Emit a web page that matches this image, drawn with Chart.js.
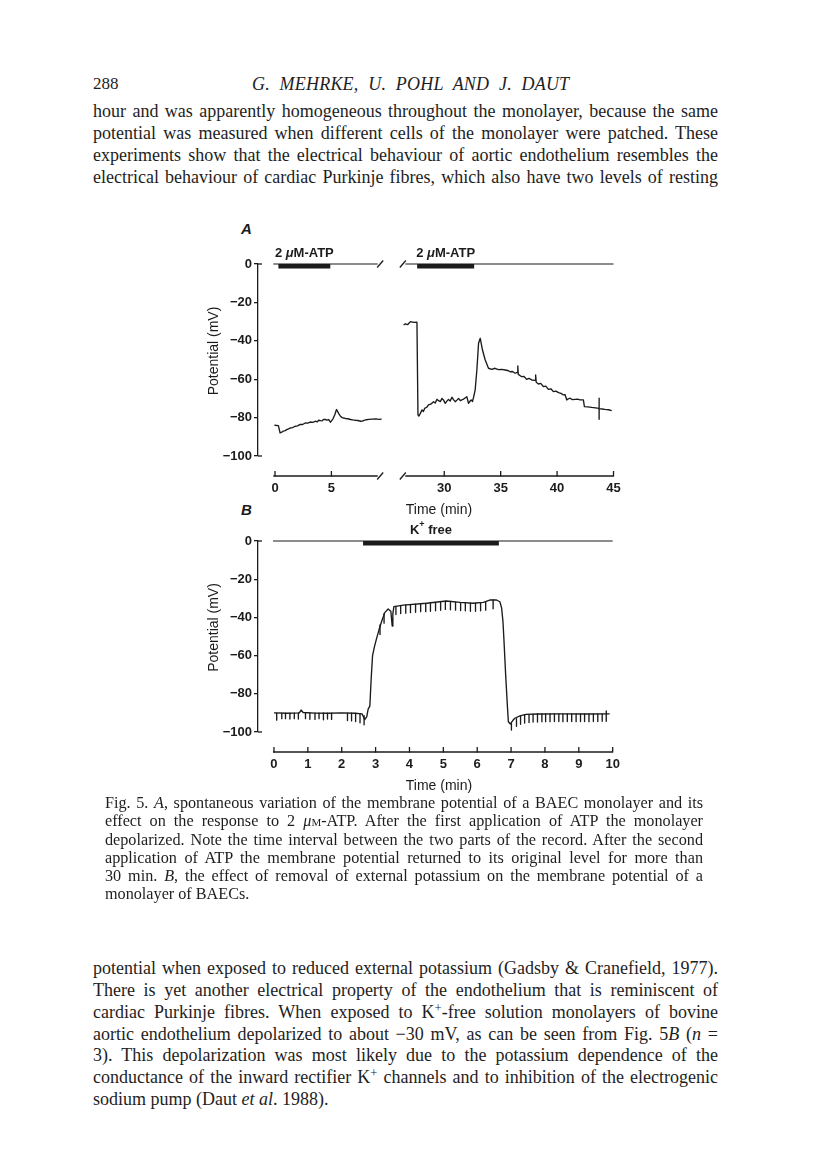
<!DOCTYPE html>
<html>
<head>
<meta charset="utf-8">
<script src="https://cdn.jsdelivr.net/npm/chart.js@4.4.0/dist/chart.umd.min.js"></script>
<style>
  body { margin: 0; background: #fff; width: 816px; height: 1167px; position: relative; overflow: hidden;
         font-family: "Liberation Serif", serif; color: #1e1e1e; }
  .l { position: absolute; left: 93px; width: 625px; font-size: 18px; line-height: 22px;
       text-align: justify; text-align-last: justify; }
  .c { left: 105px; width: 598px; font-size: 16.2px; line-height: 18px; }
  .last { text-align-last: left; }
  .sc { font-variant: small-caps; }
  sup { font-size: 0.7em; line-height: 0; vertical-align: 0.45em; }
  .hd { position: absolute; font-size: 17px; line-height: 22px; }
  .panel { position: absolute; font: italic bold 15px "Liberation Sans", sans-serif; color: #1b1b1b; }
  canvas { position: absolute; }
</style>
</head>
<body>

<div class="hd" style="left:93px;top:73px;">288</div>
<div class="hd" style="left:252px;top:73px;font-style:italic;font-size:18px;letter-spacing:0.2px;word-spacing:5px;">G. MEHRKE, U. POHL AND J. DAUT</div>

<div class="l" style="top:100px;">hour and was apparently homogeneous throughout the monolayer, because the same</div>
<div class="l" style="top:122px;">potential was measured when different cells of the monolayer were patched. These</div>
<div class="l" style="top:144px;">experiments show that the electrical behaviour of aortic endothelium resembles the</div>
<div class="l" style="top:166px;">electrical behaviour of cardiac Purkinje fibres, which also have two levels of resting</div>

<div class="panel" style="left:241px;top:220px;">A</div>
<div class="panel" style="left:241px;top:501px;">B</div>

<canvas id="panelA" width="450" height="290" style="left:180px;top:236px;"></canvas>
<canvas id="panelB" width="450" height="289" style="left:180px;top:513px;"></canvas>

<div class="l c" style="top:794px;">Fig. 5. <i>A</i>, spontaneous variation of the membrane potential of a BAEC monolayer and its</div>
<div class="l c" style="top:812px;">effect on the response to 2 <i>μ</i><span class="sc">m</span>-ATP. After the first application of ATP the monolayer</div>
<div class="l c" style="top:831px;">depolarized. Note the time interval between the two parts of the record. After the second</div>
<div class="l c" style="top:849px;">application of ATP the membrane potential returned to its original level for more than</div>
<div class="l c" style="top:867px;">30 min. <i>B</i>, the effect of removal of external potassium on the membrane potential of a</div>
<div class="l c last" style="top:885px;">monolayer of BAECs.</div>

<div class="l" style="top:957px;">potential when exposed to reduced external potassium (Gadsby &amp; Cranefield, 1977).</div>
<div class="l" style="top:979px;">There is yet another electrical property of the endothelium that is reminiscent of</div>
<div class="l" style="top:1001px;">cardiac Purkinje fibres. When exposed to K<sup>+</sup>-free solution monolayers of bovine</div>
<div class="l" style="top:1023px;">aortic endothelium depolarized to about −30 mV, as can be seen from Fig. 5<i>B</i> (<i>n</i> =</div>
<div class="l" style="top:1044px;">3). This depolarization was most likely due to the potassium dependence of the</div>
<div class="l" style="top:1066px;">conductance of the inward rectifier K<sup>+</sup> channels and to inhibition of the electrogenic</div>
<div class="l last" style="top:1088px;">sodium pump (Daut <i>et al</i>. 1988).</div>

<script>
// ---- data (time in min, potential in mV) ----

// panel A, first record
const aLeftTime = [-0.05, 0.3, 0.45, 0.6, 0.74, 0.9, 1.04, 1.2, 1.34, 1.55, 1.79, 2.0, 2.23, 2.45, 2.68,
  2.9, 3.13, 3.35, 3.57, 3.75, 3.87, 4.05, 4.17, 4.3, 4.46, 4.6, 4.76, 4.91, 5.02, 5.15, 5.3, 5.45, 5.55,
  5.65, 5.8, 5.95, 6.1, 6.25, 6.45, 6.7, 6.9, 7.14, 7.35, 7.59, 7.75, 7.89, 8.1, 8.33, 8.6, 8.93, 9.2, 9.45];
const aLeftMv = [-84.0, -84.2, -88.0, -87.6, -87.0, -86.8, -86.3, -85.9, -85.4, -85.2, -84.5, -84.3, -83.5, -83.6, -82.8,
  -82.9, -82.3, -82.5, -81.9, -82.2, -81.4, -81.6, -81.7, -81.0, -80.9, -81.3, -81.0, -82.4, -81.6, -80.5, -78.5, -75.8, -76.8,
  -77.9, -79.3, -80.0, -80.2, -80.5, -80.6, -81.0, -81.2, -81.4, -81.5, -81.9, -81.8, -81.4, -81.1, -80.9, -80.8, -80.7, -80.9, -80.8];

// panel A, second record
const aRightTime = [26.4, 26.55, 26.75, 27.0, 27.3, 27.58, 27.67, 27.75, 27.88, 28.03, 28.15, 28.26, 28.45, 28.6, 28.8,
  29.05, 29.2, 29.35, 29.5, 29.65, 29.8, 29.95, 30.09, 30.25, 30.38, 30.52, 30.68, 30.82, 30.97, 31.12, 31.27, 31.42,
  31.56, 31.75, 32.0, 32.15, 32.27, 32.39, 32.5, 32.6, 32.74, 32.89, 33.04, 33.19, 33.39, 33.63, 33.92, 34.22, 34.5,
  34.8, 35.1, 35.4, 35.7, 35.84, 36.05, 36.28, 36.48, 36.52, 36.56, 36.87, 37.05, 37.3, 37.5, 37.76, 38.05, 38.1,
  38.15, 38.35, 38.55, 38.8, 39.0, 39.23, 39.45, 39.67, 39.9, 40.12, 40.35, 40.56, 40.7, 40.86, 41.0, 41.15, 41.35,
  41.6, 41.8, 42.04, 42.33, 42.42, 42.7, 43.07, 43.4, 43.72, 43.72, 43.72, 43.74, 44.0, 44.25, 44.55, 44.84];
const aRightMv = [-31.8, -31.2, -31.6, -30.0, -30.4, -30.3, -78.6, -79.2, -77.8, -76.0, -76.8, -75.2, -74.6, -73.4, -73.0,
  -71.7, -72.4, -70.5, -71.2, -71.7, -70.0, -71.0, -72.6, -71.3, -70.5, -71.4, -69.4, -70.6, -71.7, -70.9, -70.0, -71.2,
  -70.8, -70.2, -69.1, -72.6, -71.5, -70.8, -71.6, -69.4, -65.6, -55.2, -41.3, -38.7, -44.8, -50.0, -54.3, -54.9, -54.3,
  -55.0, -54.9, -55.2, -55.6, -56.1, -56.0, -56.9, -56.4, -53.1, -57.5, -58.7, -58.5, -60.1, -59.6, -60.4, -60.6, -57.8,
  -61.6, -62.5, -62.2, -63.9, -63.6, -65.3, -65.0, -66.5, -66.2, -67.0, -67.4, -68.2, -68.0, -70.8, -70.2, -69.9, -70.6,
  -70.5, -70.4, -70.8, -70.8, -74.3, -74.4, -74.7, -74.9, -75.2, -69.9, -80.9, -75.3, -75.5, -75.7, -75.9, -76.4];

const aAtpStart = [0.3, 27.6];
const aAtpEnd = [4.9, 32.65];
const aRecordStart = [-0.15, 26.55];
const aRecordEnd = [9.1, 45];
const aTickTime = [0, 5, 30, 35, 40, 45];
const aTimeCut = 15;          // minutes left out between the two parts of record A

// panel B
const bTime = [0.0, 0.4, 0.75, 0.8, 0.86, 1.2, 1.6, 2.0, 2.4, 2.6, 2.68, 2.74, 2.78, 2.83, 2.87, 2.91, 2.97, 3.03,
  3.1, 3.18, 3.27, 3.37, 3.45, 3.49, 3.51, 3.54, 3.82, 4.5, 5.09, 5.49, 5.88, 6.18, 6.37, 6.57, 6.67, 6.72, 6.76, 6.79,
  6.84, 6.89, 6.92, 6.98, 7.05, 7.11, 7.26, 7.44, 7.8, 8.5, 9.2, 9.91];
const bMv = [-90.0, -90.2, -90.0, -88.5, -89.8, -90.1, -90.2, -90.0, -90.2, -90.5, -93.5, -92.0, -88.0, -86.5, -72.0,
  -60.0, -55.0, -51.0, -46.5, -42.0, -37.5, -35.6, -36.8, -44.5, -38.0, -34.4, -33.6, -32.6, -31.4, -32.1, -32.6, -32.1,
  -30.9, -30.9, -31.8, -35.0, -42.0, -52.0, -70.0, -86.0, -94.6, -95.8, -94.0, -92.8, -91.6, -90.8, -90.6, -90.5, -90.6, -90.5];

// short hyperpolarizing test pulses on trace B
const bPulseTime = [0.08, 0.23, 0.34, 0.47, 0.60, 0.72, 0.93, 1.06, 1.21, 1.33, 1.46, 1.58, 1.70, 2.17, 2.29, 2.41, 2.54, 2.66,
  3.13, 3.25,
  3.60, 3.74, 3.89, 4.03, 4.18, 4.33, 4.48, 4.62, 4.77, 4.92, 5.06, 5.21, 5.36, 5.51, 5.65, 5.80, 5.95, 6.10, 6.25, 6.47,
  7.01, 7.16, 7.28, 7.40, 7.53, 7.65, 7.78, 7.91, 8.02, 8.15, 8.28, 8.41, 8.53, 8.66, 8.79, 8.92, 9.05, 9.17, 9.30, 9.43,
  9.56, 9.69, 9.81];
const bPulseTop = [-90.2, -90.2, -90.2, -90.1, -90.1, -90.0, -89.9, -90.0, -90.2, -90.2, -90.0, -90.1, -90.2, -90.2, -90.2, -90.3, -90.4, -91.5,
  -44.0, -38.0,
  -34.2, -33.8, -33.5, -33.3, -33.1, -32.9, -32.7, -32.5, -32.2, -31.9, -31.5, -31.7, -32.0, -32.1, -32.3, -32.5, -32.6, -32.3, -32.0, -30.9,
  -95.6, -93.0, -91.8, -91.1, -90.8, -90.7, -90.6, -90.6, -90.5, -90.5, -90.5, -90.5, -90.5, -90.5, -90.6, -90.6, -90.6, -90.6, -90.6, -90.6,
  -90.6, -90.6, -89.0];
const bPulseBottom = [-93.8, -93.0, -93.0, -93.2, -93.0, -93.2, -93.0, -93.3, -93.4, -93.0, -93.6, -93.2, -93.4, -94.0, -94.2, -94.5, -95.2, -96.2,
  -49.0, -43.0,
  -38.5, -38.0, -37.8, -37.5, -37.3, -37.0, -37.0, -36.8, -36.5, -36.3, -35.8, -36.0, -36.2, -36.4, -36.5, -36.8, -36.8, -36.5, -36.2, -35.5,
  -99.0, -97.0, -96.0, -95.3, -95.0, -94.8, -94.8, -94.6, -94.6, -94.6, -94.5, -94.5, -94.6, -94.5, -94.5, -94.6, -94.5, -94.5, -94.6, -94.5,
  -94.5, -94.4, -94.4];

const bKfreeStart = [2.63];
const bKfreeEnd = [6.64];
const bRecordStart = [-0.03];
const bRecordEnd = [10];
const bTickTime = [0, 1, 2, 3, 4, 5, 6, 7, 8, 9, 10];

const yTicks = [0, -20, -40, -60, -80, -100];

// ---- drawing ----
const INK = '#1b1b1b';
const SANS = '"Liberation Sans", Arial, sans-serif';
const TICK_FONT = { family: SANS, size: 13, weight: 'bold' };
const TITLE_FONT = { family: SANS, size: 14 };
const BAR_MV = -1.2;   // solution bar sits just under the 0 mV line

const toPoints = (ts, vs, f) => ts.map((t, i) => ({ x: f(t), y: vs[i] }));
// pieces of horizontal line separated by gaps (null breaks the line)
const pieces = (starts, ends, level, f) =>
  starts.flatMap((s, i) => [{ x: f(s), y: level }, { x: f(ends[i]), y: level }, { x: f(ends[i]), y: null }]);

function drawRich(ctx, parts, cx, cy) {
  let w = 0;
  parts.forEach(p => { ctx.font = p.font; w += ctx.measureText(p.text).width; });
  let xx = cx - w / 2;
  ctx.textAlign = 'left';
  ctx.textBaseline = 'middle';
  parts.forEach(p => {
    ctx.font = p.font;
    ctx.fillText(p.text, xx, cy + (p.dy || 0));
    xx += ctx.measureText(p.text).width;
  });
}

const paperMarks = {
  id: 'paperMarks',
  afterDraw(chart, args, o) {
    const { ctx, chartArea: area, scales: { x, y } } = chart;
    const px = t => x.getPixelForValue(o.toAxis(t));
    const line = (x1, y1, x2, y2) => { ctx.beginPath(); ctx.moveTo(x1, y1); ctx.lineTo(x2, y2); ctx.stroke(); };
    const slash = (cx, cy) => line(cx - 3, cy + 3.5, cx + 3, cy - 3.5);
    ctx.save();
    ctx.strokeStyle = INK;
    ctx.fillStyle = INK;
    ctx.lineWidth = 1.3;

    // time axis, set off below the potential range
    const axisY = area.bottom + 20;
    o.starts.forEach((s, i) => {
      line(px(s), axisY, px(o.ends[i]), axisY);
      if (i > 0) slash(px(s) - 2.5, axisY);
      if (i < o.starts.length - 1) slash(px(o.ends[i]) + 2.5, axisY);
    });
    x.ticks.forEach(t => {
      const p = x.getPixelForValue(t.value);
      line(p, axisY + 0.6, p, axisY - 5);
    });

    // break marks on the 0 mV line
    const topY = y.getPixelForValue(0);
    o.starts.forEach((s, i) => {
      if (i > 0) slash(px(s) - 2.5, topY);
      if (i < o.starts.length - 1) slash(px(o.ends[i]) + 2.5, topY);
    });

    // corner stubs at both ends of the potential axis
    [0, -100].forEach(v => {
      const p = y.getPixelForValue(v);
      line(area.left, p, area.left + 4, p);
    });

    // rotated axis title
    ctx.save();
    ctx.translate(o.titleX, (area.top + area.bottom) / 2 - 9);
    ctx.rotate(-Math.PI / 2);
    ctx.font = `${TITLE_FONT.size}px ${SANS}`;
    ctx.textAlign = 'center';
    ctx.textBaseline = 'middle';
    ctx.fillText('Potential (mV)', 0, 0);
    ctx.restore();

    // labels over the solution bars
    o.barStart.forEach((s, i) => drawRich(ctx, o.barLabel, (px(s) + px(o.barEnd[i])) / 2, area.top - 11));
    ctx.restore();
  }
};

function makePanel(id, cfg) {
  const f = cfg.toAxis;
  const traceStyle = { type: 'line', borderColor: INK, borderWidth: 1.35, pointRadius: 0, fill: false,
                       tension: 0, borderJoinStyle: 'round', clip: false, spanGaps: false };
  const datasets = [
    { ...traceStyle, data: pieces(cfg.recStart, cfg.recEnd, 0, f), borderWidth: 1.2 },
    { ...traceStyle, data: pieces(cfg.barStart, cfg.barEnd, BAR_MV, f), borderWidth: 4.5, borderJoinStyle: 'miter' }
  ].concat(cfg.traces.map(d => ({ ...traceStyle, data: d })));

  return new Chart(document.getElementById(id), {
    type: 'line',
    data: { datasets },
    plugins: [paperMarks],
    options: {
      responsive: false,
      animation: false,
      devicePixelRatio: 1,
      layout: { padding: { top: 28, right: 10, bottom: 0, left: 0 } },
      plugins: {
        legend: { display: false },
        tooltip: { enabled: false },
        paperMarks: {
          toAxis: f, starts: cfg.recStart, ends: cfg.recEnd, titleX: 34,
          barStart: cfg.barStart, barEnd: cfg.barEnd, barLabel: cfg.barLabel
        }
      },
      scales: {
        x: {
          type: 'linear', min: cfg.xMin, max: cfg.xMax,
          afterFit: s => { s.height = 70; s.paddingLeft = 0; s.paddingRight = 0; },
          afterBuildTicks: s => { s.ticks = cfg.tickTime.map(t => ({ value: f(t) })); },
          ticks: { color: INK, font: TICK_FONT, padding: 25, maxRotation: 0, autoSkip: false,
                   callback: (v, i) => String(cfg.tickTime[i]) },
          grid: { display: false, drawTicks: false },
          border: { display: false },
          title: { display: true, text: 'Time (min)', color: INK, font: TITLE_FONT, padding: { top: 0, bottom: 7 } }
        },
        y: {
          min: -100, max: 0,
          afterFit: s => { s.width = 78; s.paddingTop = 0; s.paddingBottom = 0; },
          afterBuildTicks: s => { s.ticks = yTicks.map(v => ({ value: v })); },
          ticks: { color: INK, font: TICK_FONT, padding: 2,
                   callback: v => (v < 0 ? '\u2212' + Math.abs(v) : String(v)) },
          grid: { drawOnChartArea: false, drawTicks: true, tickLength: 4, color: INK, lineWidth: 1.3 },
          border: { display: true, color: INK, width: 1.3 }
        }
      }
    }
  });
}

const boldFont = `bold 13px ${SANS}`;

const toAxisA = t => (t > 20 ? t - aTimeCut : t);
makePanel('panelA', {
  toAxis: toAxisA,
  xMin: -1.507, xMax: 30.576,
  tickTime: aTickTime,
  recStart: aRecordStart, recEnd: aRecordEnd,
  barStart: aAtpStart, barEnd: aAtpEnd,
  barLabel: [{ text: '2 ', font: boldFont }, { text: 'μ', font: `italic bold 13px ${SANS}` }, { text: 'M-ATP', font: boldFont }],
  traces: [toPoints(aLeftTime, aLeftMv, toAxisA), toPoints(aRightTime, aRightMv, toAxisA)]
});

const same = t => t;
const bPulses = bPulseTime.flatMap((t, i) => [{ x: t, y: bPulseTop[i] }, { x: t, y: bPulseBottom[i] }, { x: t, y: null }]);
makePanel('panelB', {
  toAxis: same,
  xMin: -0.472, xMax: 10.216,
  tickTime: bTickTime,
  recStart: bRecordStart, recEnd: bRecordEnd,
  barStart: bKfreeStart, barEnd: bKfreeEnd,
  barLabel: [{ text: 'K', font: boldFont }, { text: '+', font: `bold 9px ${SANS}`, dy: -5 }, { text: ' free', font: boldFont }],
  traces: [toPoints(bTime, bMv, same), bPulses]
});
</script>
</body>
</html>
